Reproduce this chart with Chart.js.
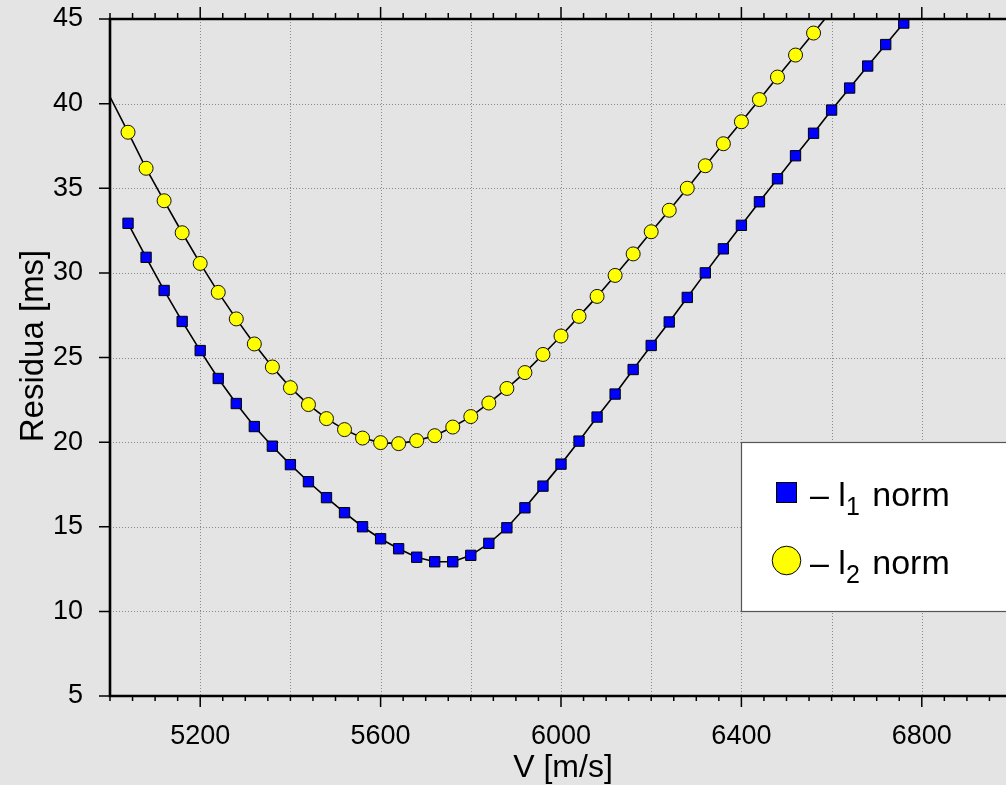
<!DOCTYPE html>
<html>
<head>
<meta charset="utf-8">
<title>Residua</title>
<script src="https://cdn.jsdelivr.net/npm/chart.js@4.4.1/dist/chart.umd.min.js"></script>
<style>
  html, body { margin: 0; padding: 0; background: #e4e4e4; overflow: hidden; }
  #wrap { width: 1012px; height: 785px; }
</style>
</head>
<body>
<div id="wrap"><canvas id="residuaChart" width="1012" height="785"></canvas></div>
<script>
// l1 norm: velocity [m/s] and residua [ms]
const l1Velocity = [5040, 5080, 5120, 5160, 5200, 5240, 5280, 5320, 5360, 5400,
                    5440, 5480, 5520, 5560, 5600, 5640, 5680, 5720, 5760, 5800,
                    5840, 5880, 5920, 5960, 6000, 6040, 6080, 6120, 6160, 6200,
                    6240, 6280, 6320, 6360, 6400, 6440, 6480, 6520, 6560, 6600,
                    6640, 6680, 6720, 6760, 6800];
const l1Residua = [32.93, 30.92, 28.96, 27.13, 25.41, 23.76, 22.28, 20.92, 19.76, 18.67,
                   17.66, 16.72, 15.83, 15.00, 14.29, 13.70, 13.20, 12.93, 12.93, 13.31,
                   14.02, 14.94, 16.12, 17.40, 18.70, 20.06, 21.48, 22.84, 24.29, 25.71,
                   27.10, 28.55, 30.00, 31.42, 32.81, 34.20, 35.56, 36.92, 38.25, 39.62,
                   40.92, 42.22, 43.49, 44.76, 46.03];

// l2 norm
const l2Velocity = [5000, 5040, 5080, 5120, 5160, 5200, 5240, 5280, 5320, 5360,
                    5400, 5440, 5480, 5520, 5560, 5600, 5640, 5680, 5720, 5760,
                    5800, 5840, 5880, 5920, 5960, 6000, 6040, 6080, 6120, 6160,
                    6200, 6240, 6280, 6320, 6360, 6400, 6440, 6480, 6520, 6560, 6600];
const l2Residua = [40.40, 38.31, 36.18, 34.26, 32.37, 30.56, 28.85, 27.28, 25.80, 24.44,
                   23.22, 22.22, 21.39, 20.74, 20.24, 19.97, 19.91, 20.09, 20.38, 20.89,
                   21.51, 22.31, 23.17, 24.11, 25.18, 26.27, 27.43, 28.61, 29.85, 31.12,
                   32.43, 33.70, 35.00, 36.33, 37.63, 38.93, 40.24, 41.57, 42.87, 44.17, 45.50];

// curve ends drawn without a marker
const l1Unmarked = [6800];
const l2Unmarked = [5000, 6600];

// axes
const xLabelValues = [5200, 5600, 6000, 6400, 6800];
const xGridValues = [5200, 5400, 5600, 5800, 6000, 6200, 6400, 6600, 6800];
const yTickValues = [5, 10, 15, 20, 25, 30, 35, 40, 45];
const xMinorStep = 50;

const FONT = '"Liberation Sans", Arial, Helvetica, sans-serif';

function toPoints(xs, ys) {
    return xs.map((x, i) => ({ x: x, y: ys[i] }));
}

// dotted grid, axis frame with ticks, axis titles and the legend box
const framePlugin = {
    id: 'frame',
    beforeDatasetsDraw(chart) {
        const { ctx, chartArea, scales } = chart;
        ctx.save();
        ctx.strokeStyle = '#8a8a8a';
        ctx.lineWidth = 1;
        ctx.setLineDash([1, 2]);
        ctx.beginPath();
        xGridValues.forEach(v => {
            const x = Math.round(scales.x.getPixelForValue(v)) + 0.5;
            ctx.moveTo(x, chartArea.top);
            ctx.lineTo(x, chartArea.bottom);
        });
        yTickValues.forEach(v => {
            const y = Math.round(scales.y.getPixelForValue(v)) + 0.5;
            ctx.moveTo(chartArea.left, y);
            ctx.lineTo(chartArea.right, y);
        });
        ctx.stroke();
        ctx.restore();
    },
    afterDatasetsDraw(chart) {
        const { ctx, chartArea, scales } = chart;
        const { left, right, top, bottom } = chartArea;
        ctx.save();

        // ticks
        ctx.strokeStyle = '#000';
        ctx.lineWidth = 1.5;
        ctx.beginPath();
        for (let v = scales.x.min; v <= scales.x.max; v += xMinorStep) {
            const x = scales.x.getPixelForValue(v);
            const major = v % 400 === 0;
            ctx.moveTo(x, bottom);
            ctx.lineTo(x, bottom + (major ? 11 : 5));
            ctx.moveTo(x, top);
            ctx.lineTo(x, top - (major ? 12 : 6));
        }
        yTickValues.forEach(v => {
            const y = scales.y.getPixelForValue(v);
            ctx.moveTo(left - 11, y);
            ctx.lineTo(left, y);
        });
        ctx.stroke();

        // axis lines
        ctx.lineWidth = 2.6;
        ctx.beginPath();
        ctx.moveTo(right, top);
        ctx.lineTo(left, top);
        ctx.lineTo(left, bottom);
        ctx.lineTo(right, bottom);
        ctx.stroke();

        // axis titles
        ctx.fillStyle = '#000';
        ctx.font = '32px ' + FONT;
        ctx.textAlign = 'center';
        ctx.textBaseline = 'alphabetic';
        ctx.fillText('V [m/s]', 563, 777);
        ctx.save();
        ctx.translate(43, 346);
        ctx.rotate(-Math.PI / 2);
        ctx.font = '33px ' + FONT;
        ctx.fillText('Residua [ms]', 0, 0);
        ctx.restore();

        // legend
        ctx.fillStyle = '#ffffff';
        ctx.fillRect(741, 442, 300, 169);
        ctx.strokeStyle = '#555';
        ctx.lineWidth = 1.2;
        ctx.strokeRect(741.5, 442.5, 300, 169);

        ctx.lineWidth = 1;
        ctx.strokeStyle = '#000';
        ctx.fillStyle = '#0000ff';
        ctx.fillRect(776, 482, 20, 20);
        ctx.strokeRect(776.5, 482.5, 20, 20);
        ctx.fillStyle = '#ffff00';
        ctx.beginPath();
        ctx.arc(786.5, 560.5, 14.3, 0, Math.PI * 2);
        ctx.fill();
        ctx.stroke();

        ctx.fillStyle = '#000';
        ctx.textAlign = 'left';
        drawNormLabel(ctx, 810, 506, '1');
        drawNormLabel(ctx, 810, 574, '2');

        ctx.restore();
    }
};

function drawNormLabel(ctx, x, baseline, sub) {
    ctx.font = '34px ' + FONT;
    ctx.fillText('\u2013 l', x, baseline);
    let w = ctx.measureText('\u2013 l').width;
    ctx.font = '25px ' + FONT;
    ctx.fillText(sub, x + w, baseline + 9);
    w += ctx.measureText(sub).width + 3;
    ctx.font = '34px ' + FONT;
    ctx.fillText(' norm', x + w, baseline);
}

const ctx = document.getElementById('residuaChart').getContext('2d');

const chart = new Chart(ctx, {
    type: 'line',
    data: {
        datasets: [
            {
                label: 'l2 norm',
                data: toPoints(l2Velocity, l2Residua),
                borderColor: '#000',
                borderWidth: 1.6,
                tension: 0,
                fill: false,
                pointStyle: 'circle',
                pointRadius: c => l2Unmarked.includes(l2Velocity[c.dataIndex]) ? 0 : 7,
                pointBackgroundColor: '#ffff00',
                pointBorderColor: '#111',
                pointBorderWidth: 1
            },
            {
                label: 'l1 norm',
                data: toPoints(l1Velocity, l1Residua),
                borderColor: '#000',
                borderWidth: 1.6,
                tension: 0,
                fill: false,
                pointStyle: 'rect',
                pointRadius: c => l1Unmarked.includes(l1Velocity[c.dataIndex]) ? 0 : 7.3,
                pointBackgroundColor: '#0000ff',
                pointBorderColor: '#000',
                pointBorderWidth: 1
            }
        ]
    },
    options: {
        responsive: false,
        animation: false,
        events: [],
        layout: {
            autoPadding: false,
            padding: { top: 19, left: 0, right: 0, bottom: 0 }
        },
        plugins: {
            legend: { display: false },
            tooltip: { enabled: false }
        },
        scales: {
            x: {
                type: 'linear',
                min: 5000,
                max: 7000,
                grid: { display: false },
                border: { display: false },
                ticks: {
                    stepSize: 200,
                    autoSkip: false,
                    maxRotation: 0,
                    padding: 16,
                    color: '#000',
                    font: { family: FONT, size: 27 },
                    callback: v => xLabelValues.includes(v) ? String(v) : ''
                },
                afterFit: s => {
                    s.height = 89;
                    s.paddingLeft = 0;
                    s.paddingRight = 0;
                }
            },
            y: {
                min: 5,
                max: 45,
                grid: { display: false },
                border: { display: false },
                ticks: {
                    stepSize: 5,
                    padding: 19,
                    color: '#000',
                    font: { family: FONT, size: 27 }
                },
                afterFit: s => {
                    s.width = 110;
                    s.paddingTop = 0;
                    s.paddingBottom = 0;
                }
            }
        }
    },
    plugins: [framePlugin]
});
</script>
</body>
</html>
